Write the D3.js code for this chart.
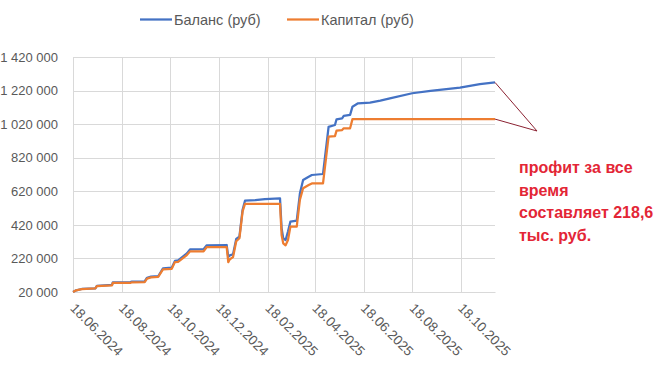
<!DOCTYPE html>
<html>
<head>
<meta charset="utf-8">
<script src="https://cdn.jsdelivr.net/npm/d3@7"></script>
<style>
  body { margin: 0; background: #fff; }
  svg { display: block; font-family: "Liberation Sans", Arial, sans-serif; }
</style>
</head>
<body>
<div id="chart"></div>
<script>
// Series data
const balanceDates = ['18.06.2024','22.06.2024','29.06.2024','16.07.2024','18.07.2024','06.08.2024','07.08.2024','29.08.2024','31.08.2024','16.09.2024','19.09.2024','24.09.2024','03.10.2024','09.10.2024','20.10.2024','24.10.2024','28.10.2024','08.11.2024','12.11.2024','29.11.2024','03.12.2024','28.12.2024','30.12.2024','01.01.2025','05.01.2025','09.01.2025','13.01.2025','17.01.2025','20.01.2025','02.02.2025','14.02.2025','05.03.2025','07.03.2025','09.03.2025','12.03.2025','15.03.2025','18.03.2025','26.03.2025','30.03.2025','03.04.2025','10.04.2025','14.04.2025','28.04.2025','05.05.2025','13.05.2025','15.05.2025','22.05.2025','24.05.2025','01.06.2025','04.06.2025','11.06.2025','26.06.2025','09.07.2025','21.07.2025','18.08.2025','10.09.2025','17.10.2025','11.11.2025','30.11.2025'];
const balanceValues = [20000,30000,38000,42000,57000,62000,77000,79000,82000,83000,105000,112000,114000,161000,165000,205000,208000,250000,274000,275000,298000,300000,229000,238000,245000,336000,350000,510000,564000,568000,574000,578000,400000,340000,330000,380000,439000,445000,608000,687000,707000,717000,723000,1004000,1015000,1049000,1055000,1069000,1075000,1124000,1144000,1148000,1160000,1174000,1204000,1218000,1237000,1259000,1268600];

const capitalDates = ['18.06.2024','22.06.2024','29.06.2024','16.07.2024','18.07.2024','06.08.2024','07.08.2024','29.08.2024','31.08.2024','16.09.2024','19.09.2024','24.09.2024','03.10.2024','09.10.2024','20.10.2024','24.10.2024','28.10.2024','08.11.2024','12.11.2024','29.11.2024','03.12.2024','28.12.2024','30.12.2024','01.01.2025','05.01.2025','09.01.2025','13.01.2025','17.01.2025','20.01.2025','05.03.2025','07.03.2025','09.03.2025','12.03.2025','15.03.2025','18.03.2025','26.03.2025','30.03.2025','03.04.2025','10.04.2025','14.04.2025','28.04.2025','05.05.2025','13.05.2025','15.05.2025','22.05.2025','24.05.2025','01.06.2025','04.06.2025','30.11.2025'];
const capitalValues = [20000,30000,37000,41000,55000,60000,74000,74000,78000,79000,100000,107000,110000,155000,158000,198000,200000,240000,262000,262000,288000,288000,198000,215000,228000,322000,340000,500000,545000,545000,360000,310000,298000,330000,409000,409000,570000,638000,657000,667000,667000,945000,949000,981000,985000,995000,995000,1050000,1050000];

const xTickLabels = ['18.06.2024','18.08.2024','18.10.2024','18.12.2024','18.02.2025','18.04.2025','18.06.2025','18.08.2025','18.10.2025'];
const yTicks = [20000,220000,420000,620000,820000,1020000,1220000,1420000];
const seriesNames = ['Баланс (руб)', 'Капитал (руб)'];
const seriesColors = ['#4472C4', '#ED7D31'];
const noteLines = ['профит за все', 'время', 'составляет 218,6', 'тыс. руб.'];

const width = 662, height = 372;
const margin = { left: 73, right: 167, top: 57, bottom: 80 };

const parse = d3.timeParse('%d.%m.%Y');
const ru = d3.formatLocale({ decimal: ',', thousands: ' ', grouping: [3], currency: ['', ''] });
const fmt = ru.format(',');

const svg = d3.select('#chart').append('svg')
  .attr('width', width)
  .attr('height', height);

const x = d3.scaleTime()
  .domain([parse('18.06.2024'), parse('30.11.2025')])
  .range([margin.left, width - margin.right]);

const y = d3.scaleLinear()
  .domain([20000, 1420000])
  .range([height - margin.bottom, margin.top]);

// Gridlines
const grid = svg.append('g').attr('class', 'grid');
grid.selectAll('line.h')
  .data(yTicks)
  .enter().append('line')
  .attr('x1', x.range()[0]).attr('x2', x.range()[1])
  .attr('y1', d => Math.round(y(d)) + 0.5).attr('y2', d => Math.round(y(d)) + 0.5)
  .attr('stroke', '#D9D9D9');
grid.selectAll('line.v')
  .data(xTickLabels.map(parse))
  .enter().append('line')
  .attr('x1', d => Math.round(x(d)) + 0.5).attr('x2', d => Math.round(x(d)) + 0.5)
  .attr('y1', y.range()[1]).attr('y2', y.range()[0])
  .attr('stroke', '#D9D9D9');

// Y axis
const yAxis = svg.append('g')
  .attr('transform', `translate(${margin.left},0)`)
  .call(d3.axisLeft(y).tickValues(yTicks).tickFormat(fmt).tickSize(0).tickPadding(15));
yAxis.select('.domain').remove();
yAxis.selectAll('text')
  .attr('fill', '#595959')
  .style('font-size', '13px')
  .style('font-family', '"Liberation Sans", Arial, sans-serif');

// X axis
const xAxis = svg.append('g')
  .attr('transform', `translate(0,${height - margin.bottom})`)
  .call(d3.axisBottom(x).tickValues(xTickLabels.map(parse)).tickFormat(d3.timeFormat('%d.%m.%Y')).tickSize(0));
xAxis.select('.domain').attr('stroke', '#D9D9D9');
xAxis.selectAll('text')
  .attr('fill', '#595959')
  .style('font-size', '13.5px')
  .style('font-family', '"Liberation Sans", Arial, sans-serif')
  .attr('text-anchor', 'start')
  .attr('dy', 0)
  .attr('y', 0)
  .attr('transform', 'translate(-4,17) rotate(45)');

// Lines
const line = d3.line()
  .x(d => x(d[0]))
  .y(d => y(d[1]));

const series = [
  balanceDates.map((d, i) => [parse(d), balanceValues[i]]),
  capitalDates.map((d, i) => [parse(d), capitalValues[i]])
];

svg.append('g').selectAll('path')
  .data(series)
  .enter().append('path')
  .attr('d', line)
  .attr('fill', 'none')
  .attr('stroke', (d, i) => seriesColors[i])
  .attr('stroke-width', 2.25)
  .attr('stroke-linejoin', 'round');

// Legend
const legend = svg.append('g');
const legendX = [140, 287];
seriesNames.forEach((name, i) => {
  legend.append('line')
    .attr('x1', legendX[i]).attr('x2', legendX[i] + 32)
    .attr('y1', 19.5).attr('y2', 19.5)
    .attr('stroke', seriesColors[i])
    .attr('stroke-width', 2.25);
  legend.append('text')
    .attr('x', legendX[i] + 34)
    .attr('y', 25)
    .attr('fill', '#595959')
    .style('font-size', '14.5px')
    .text(name);
});

// Callout
const lastB = series[0][series[0].length - 1];
const lastC = series[1][series[1].length - 1];
const tip = [537, 131];
svg.append('path')
  .attr('d', `M${x(lastB[0])},${y(lastB[1])}L${tip[0]},${tip[1]}L${x(lastC[0])},${y(lastC[1])}`)
  .attr('fill', 'none')
  .attr('stroke', '#8B2232')
  .attr('stroke-width', 1);

svg.append('g').selectAll('text')
  .data(noteLines)
  .enter().append('text')
  .attr('x', 519)
  .attr('y', (d, i) => 173 + i * 22.5)
  .attr('fill', '#E32636')
  .style('font-size', '16px')
  .style('font-weight', 'bold')
  .text(d => d);
</script>
</body>
</html>
